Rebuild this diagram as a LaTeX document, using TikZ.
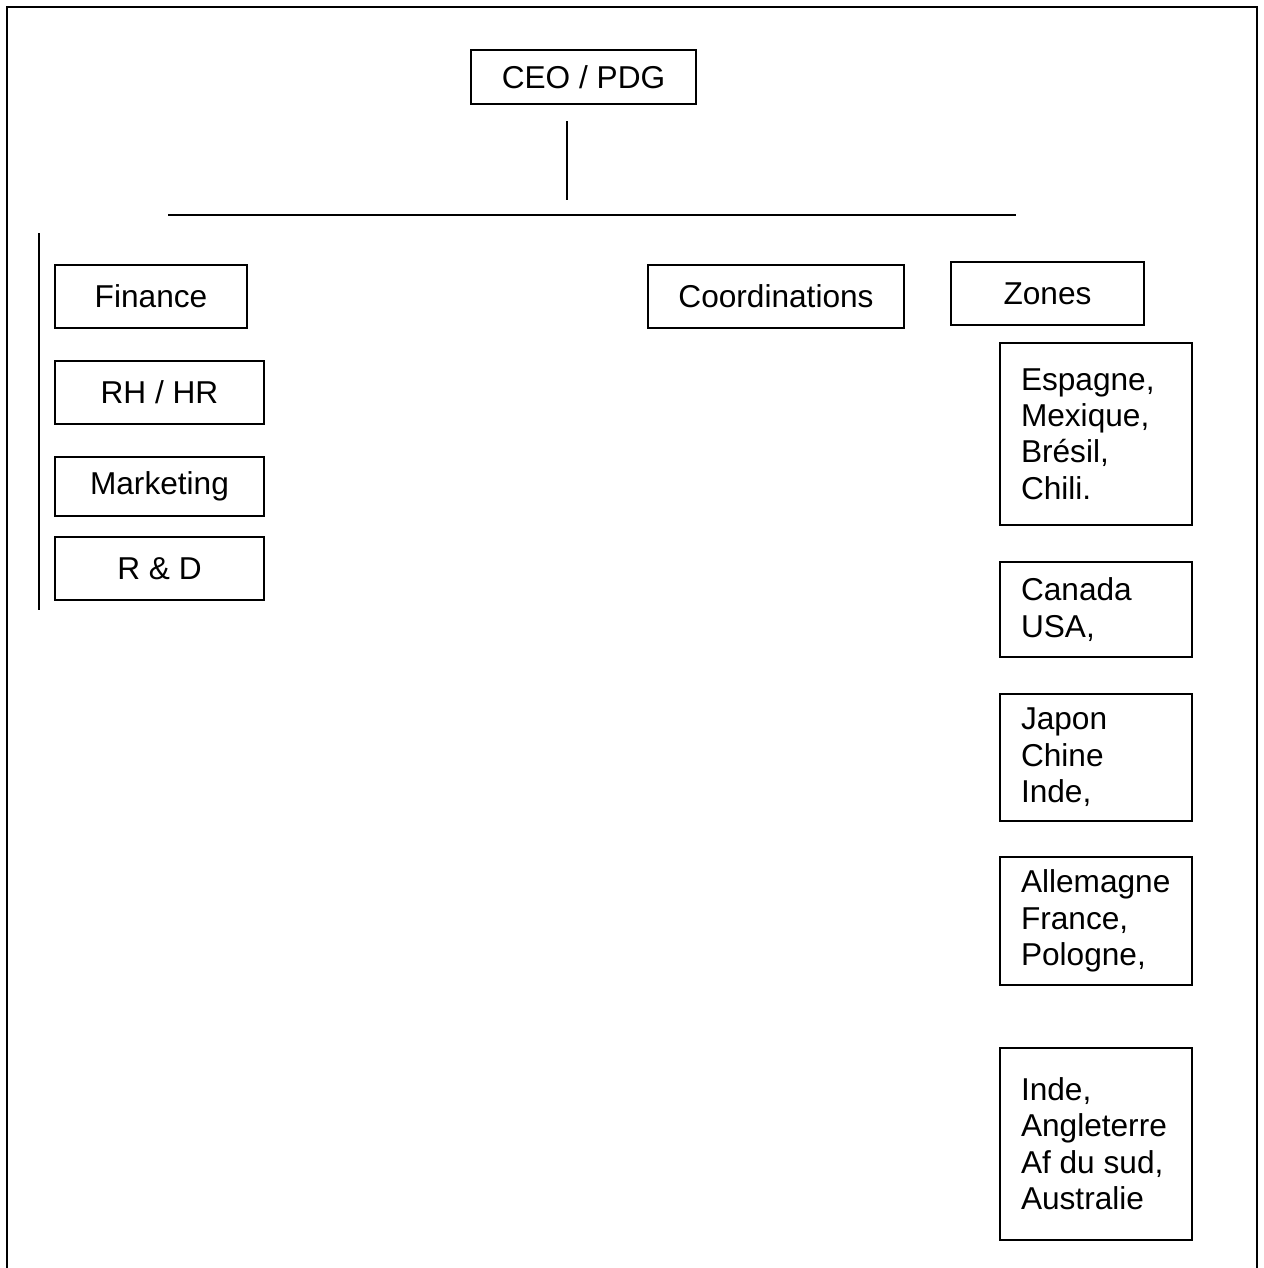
\documentclass[tikz,border=0pt]{standalone}
\usepackage{fontspec}
\setmainfont{Liberation Sans}
\usetikzlibrary{positioning}
\tikzset{
 box/.style={draw,line width=1pt,align=center,minimum height=1.26cm,
             inner sep=0pt,outer sep=0pt,font=\fontsize{18}{20.7}\selectfont},
 zonebox/.style={draw,line width=1pt,align=flush left,text width=3.0cm,
             inner xsep=0.42cm,inner ysep=0pt,outer sep=0pt,
             font=\fontsize{18}{20.7}\selectfont},
 rule/.style={line width=1pt}
}

\begin{document}
\begin{tikzpicture}[x=0.02cm,y=-0.02cm]
\useasboundingbox (0,0) rectangle (1264,1268);
% page frame
\draw[rule] (7,1268)--(7,7)--(1257,7)--(1257,1268);

\node[box,minimum width=4.5cm,minimum height=1.08cm] (ceo) at (583.5,77) {CEO / PDG};

% left column
\node[box,minimum width=3.84cm] (finance) at (151,296.5) {Finance};
\node[box,minimum width=4.18cm,below=0.66cm of finance.south west,anchor=north west] (rh) {RH / HR};
\node[box,minimum width=4.18cm,minimum height=1.18cm,below=0.66cm of rh.south west,anchor=north west] (marketing) {Marketing};
\node[box,minimum width=4.18cm,below=0.42cm of marketing.south west,anchor=north west] (rd) {R \& D};

\node[box,minimum width=5.12cm] (coord) at (776,296.5) {Coordinations};
\node[box,minimum width=3.86cm] (zones) at (1047.5,293.5) {Zones};

% zones column
\node[zonebox,minimum height=3.64cm,anchor=north west] (latam) at (1000,343)
  {Espagne,\\Mexique,\\Brésil,\\Chili.};
\node[zonebox,minimum height=1.9cm,below=0.74cm of latam.south west,anchor=north west] (namerica)
  {Canada\\USA,};
\node[zonebox,minimum height=2.54cm,below=0.74cm of namerica.south west,anchor=north west] (asia)
  {Japon\\Chine\\Inde,};
\node[zonebox,minimum height=2.56cm,below=0.72cm of asia.south west,anchor=north west] (europe)
  {Allemagne\\France,\\Pologne,};
\node[zonebox,minimum height=3.84cm,below=1.26cm of europe.south west,anchor=north west] (others)
  {Inde,\\Angleterre\\Af du sud,\\Australie};

% lines
\coordinate (stemtop) at (567,121);
\coordinate (stembot) at (567,200);
\coordinate (barleft) at (168,215);
\coordinate (barright) at (1016,215);
\coordinate (sidetop) at (39,233);
\coordinate (sidebot) at (39,610);
\draw[rule] (stemtop)--(stembot);
\draw[rule] (barleft)--(barright);
\draw[rule] (sidetop)--(sidebot);
\end{tikzpicture}
\end{document}
